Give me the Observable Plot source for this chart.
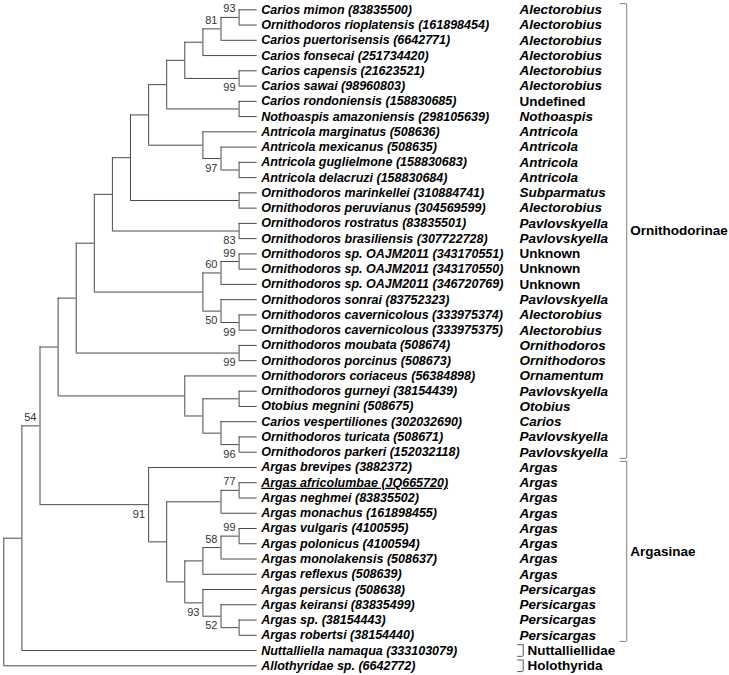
<!DOCTYPE html>
<html>
<head>
<meta charset="utf-8">
<script src="https://cdn.jsdelivr.net/npm/d3@7"></script>
<script src="https://cdn.jsdelivr.net/npm/@observablehq/plot@0.6"></script>
<style>
  html, body { margin: 0; padding: 0; background: #fff; overflow: hidden; }
  #chart svg { display: block; }
</style>
</head>
<body>
<div id="chart"></div>
<script>
// ---------------- DATA ----------------
const species = [
  "Carios mimon", "Ornithodoros rioplatensis", "Carios puertorisensis", "Carios fonsecai",
  "Carios capensis", "Carios sawai", "Carios rondoniensis", "Nothoaspis amazoniensis",
  "Antricola marginatus", "Antricola mexicanus", "Antricola guglielmone", "Antricola delacruzi",
  "Ornithodoros marinkellei", "Ornithodoros peruvianus", "Ornithodoros rostratus", "Ornithodoros brasiliensis",
  "Ornithodoros sp. OAJM2011", "Ornithodoros sp. OAJM2011", "Ornithodoros sp. OAJM2011", "Ornithodoros sonrai",
  "Ornithodoros cavernicolous", "Ornithodoros cavernicolous", "Ornithodoros moubata", "Ornithodoros porcinus",
  "Ornithodorors coriaceus", "Ornithodoros gurneyi", "Otobius megnini", "Carios vespertiliones",
  "Ornithodoros turicata", "Ornithodoros parkeri", "Argas brevipes", "Argas africolumbae",
  "Argas neghmei", "Argas monachus", "Argas vulgaris", "Argas polonicus",
  "Argas monolakensis", "Argas reflexus", "Argas persicus", "Argas keiransi",
  "Argas sp.", "Argas robertsi", "Nuttalliella namaqua", "Allothyridae sp."
];
const accessions = [
  "83835500", "161898454", "6642771", "251734420",
  "21623521", "98960803", "158830685", "298105639",
  "508636", "508635", "158830683", "158830684",
  "310884741", "304569599", "83835501", "307722728",
  "343170551", "343170550", "346720769", "83752323",
  "333975374", "333975375", "508674", "508673",
  "56384898", "38154439", "508675", "302032690",
  "508671", "152032118", "3882372", "JQ665720",
  "83835502", "161898455", "4100595", "4100594",
  "508637", "508639", "508638", "83835499",
  "38154443", "38154440", "333103079", "6642772"
];
const genera = [
  "Alectorobius", "Alectorobius", "Alectorobius", "Alectorobius",
  "Alectorobius", "Alectorobius", "Undefined", "Nothoaspis",
  "Antricola", "Antricola", "Antricola", "Antricola",
  "Subparmatus", "Alectorobius", "Pavlovskyella", "Pavlovskyella",
  "Unknown", "Unknown", "Unknown", "Pavlovskyella",
  "Alectorobius", "Alectorobius", "Ornithodoros", "Ornithodoros",
  "Ornamentum", "Pavlovskyella", "Otobius", "Carios",
  "Pavlovskyella", "Pavlovskyella", "Argas", "Argas",
  "Argas", "Argas", "Argas", "Argas",
  "Argas", "Argas", "Persicargas", "Persicargas",
  "Persicargas", "Persicargas", "", ""
];
const nonItalicGenera = ["Undefined", "Unknown"];
const underlined = ["JQ665720"];

const groupNames = ["Ornithodorinae", "Argasinae", "Nuttalliellidae", "Holothyrida"];
const groupFirst = [0, 30, 42, 43];
const groupLast  = [29, 41, 42, 43];

// Topology (leaf = row index, number after ")" = bootstrap support)
const ornithodorinaeClade = "(((((((((((0,1)93,2)81,3),(4,5)99),(6,7)),(8,(9,(10,11))97)),(12,13)),(14,15)83),(((16,17)99,18)60,(19,(20,21)99)50)),(22,23)99),(24,((25,26),(27,(28,29)96))))";
const argasinaeClade = "(30,(((31,32)77,33),((((34,35)99,36)58,37),(38,(39,(40,41))52)93)))91";
const topology = "(((" + ornithodorinaeClade + "," + argasinaeClade + ")54,42),43)";

// ---------------- TREE LAYOUT ----------------
function parseNewick(s) {
  let i = 0;
  function node() {
    if (s[i] === "(") {
      i++;
      const children = [node()];
      while (s[i] === ",") { i++; children.push(node()); }
      i++; // ')'
      let lab = "";
      while (i < s.length && /[0-9]/.test(s[i])) lab += s[i++];
      return {children, support: lab || null};
    }
    let num = "";
    while (i < s.length && /[0-9]/.test(s[i])) num += s[i++];
    return {leaf: +num};
  }
  return node();
}
const root = parseNewick(topology);
function measure(n) {
  if (n.children) {
    n.children.forEach(measure);
    n.h = 1 + d3.max(n.children, c => c.h);
    n.y = (n.children[0].y + n.children[n.children.length - 1].y) / 2;
  } else { n.h = 0; n.y = n.leaf; }
}
measure(root);
const H = root.h;
const verticals = [], horizontals = [], supports = [];
(function walk(n, parent, first, last) {
  n.x = H - n.h;
  if (parent) horizontals.push({x1: parent.x, x2: n.x, y: n.y});
  if (n.children) {
    verticals.push({x: n.x, y1: n.children[0].y, y2: n.children[n.children.length - 1].y});
    if (n.support) supports.push({x: n.x, y: n.y, label: n.support, below: last && !first});
    n.children.forEach((c, i) => walk(c, n, i === 0, i === n.children.length - 1));
  }
})(root, null, true, true);

const leaves = species.map((s, i) => ({i, label: `${s} (${accessions[i]})`, acc: accessions[i], genus: genera[i]}));
const groups = groupNames.map((name, k) => ({name, first: groupFirst[k], last: groupLast[k], inner: groupFirst[k] === groupLast[k]}));

// ---------------- PLOT ----------------
const font = "'Liberation Sans', Arial, sans-serif";
const x0 = 3.3, x1 = 256.7;
const pxPerUnit = (x1 - x0) / H;
const tickLen = 6.5 / pxPerUnit;
const lineColor = "#4a4a4a";
const bracketColor = "#808080";

const outer = groups.filter(g => !g.inner), inner = groups.filter(g => g.inner);
const bracketTicks = (gs) => gs.flatMap(g => [{y: g.first - 0.4}, {y: g.last + 0.4}]);

const plot = Plot.plot({
  width: 729,
  height: 675,
  x: {domain: [0, H], range: [x0, x1], axis: null},
  y: {domain: [0, species.length - 1], range: [9.3, 665.3], axis: null},
  style: {fontFamily: font, background: "#fff"},
  marks: [
    Plot.ruleX(verticals, {x: "x", y1: "y1", y2: "y2", stroke: lineColor, strokeWidth: 1}),
    Plot.ruleY(horizontals, {y: "y", x1: "x1", x2: "x2", stroke: lineColor, strokeWidth: 1}),
    // bootstrap values
    Plot.text(supports.filter(d => !d.below), {x: "x", y: "y", text: "label", textAnchor: "end", dx: -3.5, dy: -8.5, fontSize: 11, fill: "#333", fontFamily: font}),
    Plot.text(supports.filter(d => d.below), {x: "x", y: "y", text: "label", textAnchor: "end", dx: -3.5, dy: 9.5, fontSize: 11, fill: "#333", fontFamily: font}),
    // species labels
    Plot.text(leaves, {x: d => H, y: "i", text: "label", textAnchor: "start", dx: 4, fontSize: 12.5, fontWeight: "bold", fontStyle: "italic", fill: "#000", fontFamily: font}),
    // genus column
    Plot.text(leaves.filter(d => d.genus && !nonItalicGenera.includes(d.genus)), {x: d => H, y: "i", text: "genus", textAnchor: "start", dx: 262.3, fontSize: 13.5, fontWeight: "bold", fontStyle: "italic", fill: "#000", fontFamily: font}),
    Plot.text(leaves.filter(d => nonItalicGenera.includes(d.genus)), {x: d => H, y: "i", text: "genus", textAnchor: "start", dx: 262.3, fontSize: 13.5, fontWeight: "bold", fill: "#000", fontFamily: font}),
    // outer (subfamily) brackets
    Plot.ruleX(outer, {x: d => H, y1: d => d.first - 0.4, y2: d => d.last + 0.4, dx: 369.5, stroke: bracketColor}),
    Plot.ruleY(bracketTicks(outer), {y: "y", x1: H - tickLen, x2: H, dx: 369.5, stroke: bracketColor}),
    Plot.text(outer, {x: d => H, y: d => (d.first + d.last) / 2, text: "name", textAnchor: "start", dx: 373, fontSize: 13.5, fontWeight: "bold", fill: "#000", fontFamily: font}),
    // inner (single-taxon) brackets
    Plot.ruleX(inner, {x: d => H, y1: d => d.first - 0.38, y2: d => d.last + 0.38, dx: 266, stroke: "#555"}),
    Plot.ruleY(bracketTicks(inner).map(t => ({y: t.y > Math.round(t.y) ? t.y - 0.02 : t.y + 0.02})), {y: "y", x1: H - 5.5 / pxPerUnit, x2: H, dx: 266, stroke: "#555"}),
    Plot.text(inner, {x: d => H, y: "first", text: "name", textAnchor: "start", dx: 270.3, fontSize: 13.5, fontWeight: "bold", fill: "#000", fontFamily: font})
  ]
});

document.getElementById("chart").appendChild(plot);
d3.select(plot).selectAll("text")
  .filter(function() { return underlined.some(u => this.textContent.includes("(" + u + ")")); })
  .style("text-decoration", "underline");
</script>
</body>
</html>
